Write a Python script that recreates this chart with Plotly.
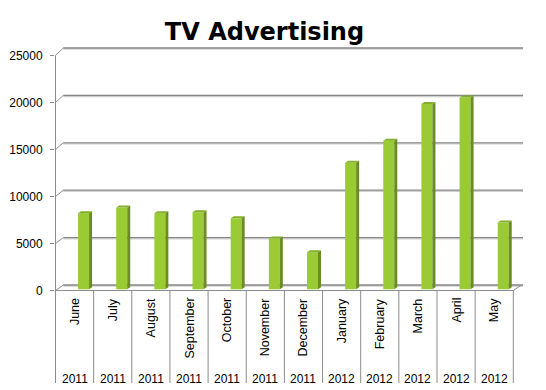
import plotly.graph_objects as go

# ---------------- data ----------------
months = ["June", "July", "August", "September", "October", "November",
          "December", "January", "February", "March", "April", "May"]
years = ["2011", "2011", "2011", "2011", "2011", "2011", "2011",
         "2012", "2012", "2012", "2012", "2012"]
values = [8100, 8700, 8100, 8200, 7550, 5400, 3950, 13450, 15800, 19700, 20400, 7100]
y_ticks = [0, 5000, 10000, 15000, 20000, 25000]
y_tick_labels = ["0", "5000", "10000", "15000", "20000", "25000"]
chart_title = "TV Advertising"

# ---------------- geometry (pixels) ----------------
W, H = 546, 390
ML, MR, MT, MB = 55, 23, 40, 94
PW = W - ML - MR
PH = H - MT - MB

CAT_PX = 38.15          # width of one category at the front
X0_PX = 55.5            # front-left category boundary
Y0_PX = 290.5           # front zero line
PX_PER_VAL = 9.4 / 1000  # pixels per value unit (front)
DEPTH_DX = 8.3          # back wall offset in pixels
DEPTH_DY = 5.5
BACK_SCALE = 1.0085

BAR_SHIFT = 0.736       # bar centre from category left boundary (categories)
BAR_W = 11 / CAT_PX
SIDE_DX = 3 / CAT_PX
SIDE_DY = 2 / PX_PER_VAL
BAR_BASE = 1.2 / PX_PER_VAL

FRONT = "#9ACB34"
SIDE = "#6A8C22"
TOP = "#84AE2C"
GRID = "#868686"
GRID_LIGHT = "#cfcfcf"
LINE = "#8c8c8c"


def ux(px):
    return (px - X0_PX) / CAT_PX


def vy(py):
    return (Y0_PX - py) / PX_PER_VAL


def paper_y(py):
    return (MT + PH - py) / PH


def back(v):
    return v * BACK_SCALE + DEPTH_DY / PX_PER_VAL


x_range = [ux(ML), ux(ML + PW)]
y_range = [vy(MT + PH), vy(MT)]
n = len(months)
back_left = ux(ML + DEPTH_DX)

shapes = []
# back-wall gridlines with diagonal connectors to the front axis
for v in y_ticks:
    shapes.append(dict(type="line", xref="x", yref="y", layer="below",
                       x0=back_left, x1=x_range[1], y0=back(v) - 1.2 / PX_PER_VAL,
                       y1=back(v) - 1.2 / PX_PER_VAL,
                       line=dict(color=GRID_LIGHT, width=1.2)))
    shapes.append(dict(type="line", xref="x", yref="y", layer="below",
                       x0=back_left, x1=x_range[1], y0=back(v), y1=back(v),
                       line=dict(color=GRID, width=1.3)))
    shapes.append(dict(type="line", xref="x", yref="y", layer="below",
                       x0=ux(ML + 0.5), x1=back_left, y0=v, y1=back(v),
                       line=dict(color=LINE, width=1)))
# vertical axis line
shapes.append(dict(type="line", xref="x", yref="y", layer="below",
                   x0=ux(ML + 0.5), x1=ux(ML + 0.5), y0=0, y1=y_ticks[-1],
                   line=dict(color=LINE, width=1)))
# floor front edge and right connector
shapes.append(dict(type="line", xref="x", yref="y", layer="below",
                   x0=ux(ML + 0.5), x1=n, y0=0, y1=0,
                   line=dict(color=LINE, width=1)))
shapes.append(dict(type="line", xref="x", yref="y", layer="below",
                   x0=n, x1=n + DEPTH_DX / CAT_PX, y0=0, y1=back(0),
                   line=dict(color=LINE, width=1)))
# category dividers below the axis
for i in range(n + 1):
    shapes.append(dict(type="line", xref="x", yref="paper", layer="below",
                       x0=i, x1=i, y0=paper_y(Y0_PX), y1=paper_y(383),
                       line=dict(color=LINE, width=1)))

annotations = []
for i, (m, yr) in enumerate(zip(months, years)):
    annotations.append(dict(x=i + 0.5, y=paper_y(296), xref="x", yref="paper",
                            text=m, textangle=-90, showarrow=False,
                            xanchor="center", yanchor="top",
                            font=dict(family="Liberation Sans", size=12.5, color="#000")))
    annotations.append(dict(x=i + 0.5, y=paper_y(379), xref="x", yref="paper",
                            text=yr, showarrow=False,
                            xanchor="center", yanchor="middle",
                            font=dict(family="Liberation Sans", size=12, color="#000")))

fig = go.Figure()

bar_x = [i + BAR_SHIFT for i in range(n)]
fig.add_trace(go.Bar(x=bar_x, y=values, base=BAR_BASE, width=BAR_W,
                     marker=dict(color=FRONT, line=dict(width=0)),
                     hoverinfo="skip"))

# side faces and top faces (3-D look)
sx, sy, tx, ty = [], [], [], []
for xc, v in zip(bar_x, values):
    xl, xr = xc - BAR_W / 2, xc + BAR_W / 2
    top = BAR_BASE + v
    sx += [xr, xr + SIDE_DX, xr + SIDE_DX, xr, xr, None]
    sy += [BAR_BASE, BAR_BASE + SIDE_DY, top + SIDE_DY, top, BAR_BASE, None]
    tx += [xl, xr, xr + SIDE_DX, xl + SIDE_DX, xl, None]
    ty += [top, top, top + SIDE_DY, top + SIDE_DY, top, None]
fig.add_trace(go.Scatter(x=sx, y=sy, mode="lines", fill="toself", fillcolor=SIDE,
                         line=dict(width=0, color=SIDE), hoverinfo="skip"))
fig.add_trace(go.Scatter(x=tx, y=ty, mode="lines", fill="toself", fillcolor=TOP,
                         line=dict(width=0, color=TOP), hoverinfo="skip"))

fig.update_layout(
    width=W, height=H,
    margin=dict(l=ML, r=MR, t=MT, b=MB, autoexpand=False),
    paper_bgcolor="white", plot_bgcolor="white",
    showlegend=False,
    title=dict(text="<b>" + chart_title + "</b>", x=264.5 / W, xref="container",
               xanchor="center", y=1 - 32 / H, yref="container", yanchor="middle",
               automargin=False,
               font=dict(family="DejaVu Sans", size=24, color="#000")),
    xaxis=dict(range=x_range, visible=False, fixedrange=True, automargin=False),
    yaxis=dict(range=y_range, tickvals=y_ticks, ticktext=y_tick_labels,
               ticks="outside", ticklen=4, tickcolor=LINE, tickwidth=1,
               showgrid=False, zeroline=False, showline=False, automargin=False,
               ticklabelstandoff=5, fixedrange=True,
               tickfont=dict(family="Liberation Sans", size=12, color="#000")),
    shapes=shapes,
    annotations=annotations,
)

fig.write_html("out.html", config={"displayModeBar": False},
               post_script="document.body.style.margin='0px';")
